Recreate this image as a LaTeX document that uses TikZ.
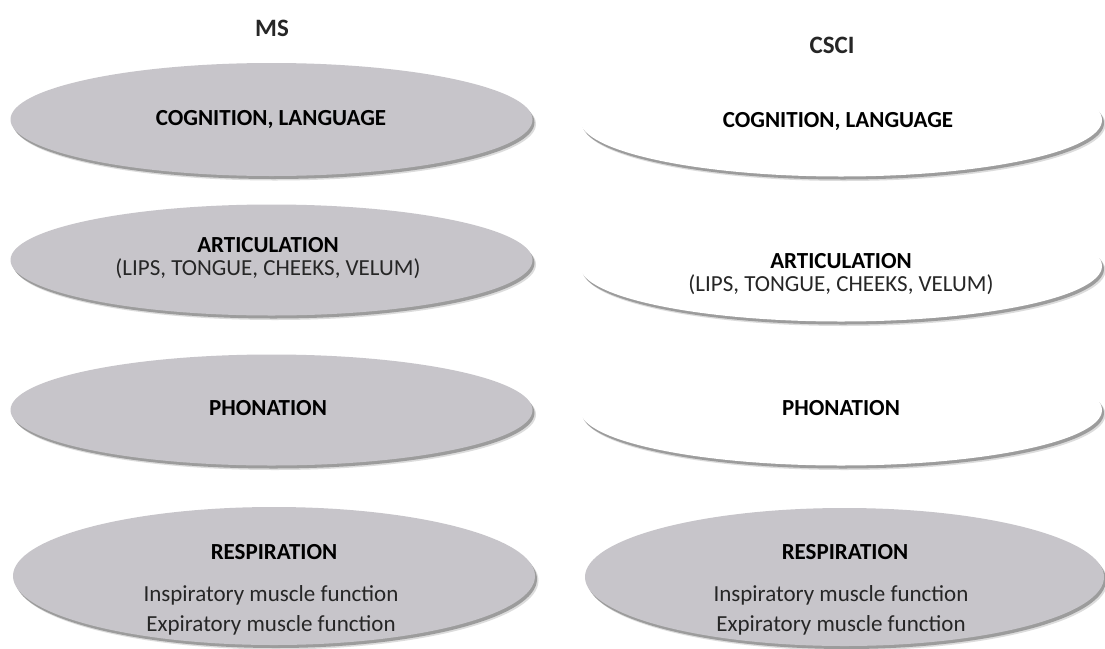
\documentclass[tikz,border=0pt]{standalone}
\usepackage{fontspec}
\setmainfont{Carlito}
\usetikzlibrary{shapes.geometric,calc}
\definecolor{ovalgray}{HTML}{C7C5CA}
\definecolor{shadowgray}{HTML}{8C8C8C}
\tikzset{
  oval/.style={ellipse, draw=none, inner sep=0pt},
  grayoval/.style={oval, fill=ovalgray},
  whiteoval/.style={oval, fill=white},
  head/.style={font=\fontsize{23}{27}\selectfont\bfseries, inner sep=0pt},
  plain/.style={font=\fontsize{23}{27}\selectfont, text=black!85, inner sep=0pt},
  title/.style={font=\fontsize{25}{29}\selectfont\bfseries, text=black!85, inner sep=0pt},
}
% shadowed oval: #1 name, #2 centre, #3 width, #4 height, #5 style
\newcommand{\shovaltxt}[5]{%
  \fill[shadowgray, opacity=0.3] ($#2+(3.5,4.5)$) ellipse [x radius=#3/2, y radius=#4/2];
  \fill[shadowgray, opacity=0.8] ($#2+(2,3)$) ellipse [x radius=#3/2, y radius=#4/2];
  \node[#5, minimum width=#3, minimum height=#4] (#1) at #2 {};
}
\begin{document}
\begin{tikzpicture}[x=1pt,y=-1pt]
\useasboundingbox (0,0) rectangle (1105,648);
\fill[white] (0,0) rectangle (1105,648);

\node[title] (ms) at (272,28) {MS};
\node[title] (csci) at (832,45) {CSCI};

% left column
\shovaltxt{lcog}{(271.5,119.5)}{522}{113}{grayoval}
\shovaltxt{lart}{(271.5,260)}{522}{111}{grayoval}
\shovaltxt{lpho}{(271.5,410)}{522}{111}{grayoval}
\shovaltxt{lres}{(274,576)}{522}{138}{grayoval}

% right column
\shovaltxt{rcog}{(841,120)}{522}{113}{whiteoval}
\shovaltxt{rart}{(841,266)}{522}{111}{whiteoval}
\shovaltxt{rpho}{(841,410)}{522}{111}{whiteoval}
\shovaltxt{rres}{(844.5,577)}{519}{138}{grayoval}

% left texts
\node[head] (lcogt) at (271,120) {COGNITION, LANGUAGE};
\node[head] (lartt) at (268,245) {ARTICULATION};
\node[plain] (lartd) at (268,269) {(LIPS, TONGUE, CHEEKS, VELUM)};
\node[head] (lphot) at (268,408) {PHONATION};
\node[head] (lrest) at (274,552) {RESPIRATION};
\node[plain] (lresi) at (271,595) {Inspiratory muscle function};
\node[plain] (lrese) at (271,625) {Expiratory muscle function};

% right texts
\node[head] (rcogt) at (838,122) {COGNITION, LANGUAGE};
\node[head] (rartt) at (841,261) {ARTICULATION};
\node[plain] (rartd) at (841,285) {(LIPS, TONGUE, CHEEKS, VELUM)};
\node[head] (rphot) at (841,408) {PHONATION};
\node[head] (rrest) at (845,552) {RESPIRATION};
\node[plain] (rresi) at (841,595) {Inspiratory muscle function};
\node[plain] (rrese) at (841,625) {Expiratory muscle function};
\end{tikzpicture}
\end{document}
